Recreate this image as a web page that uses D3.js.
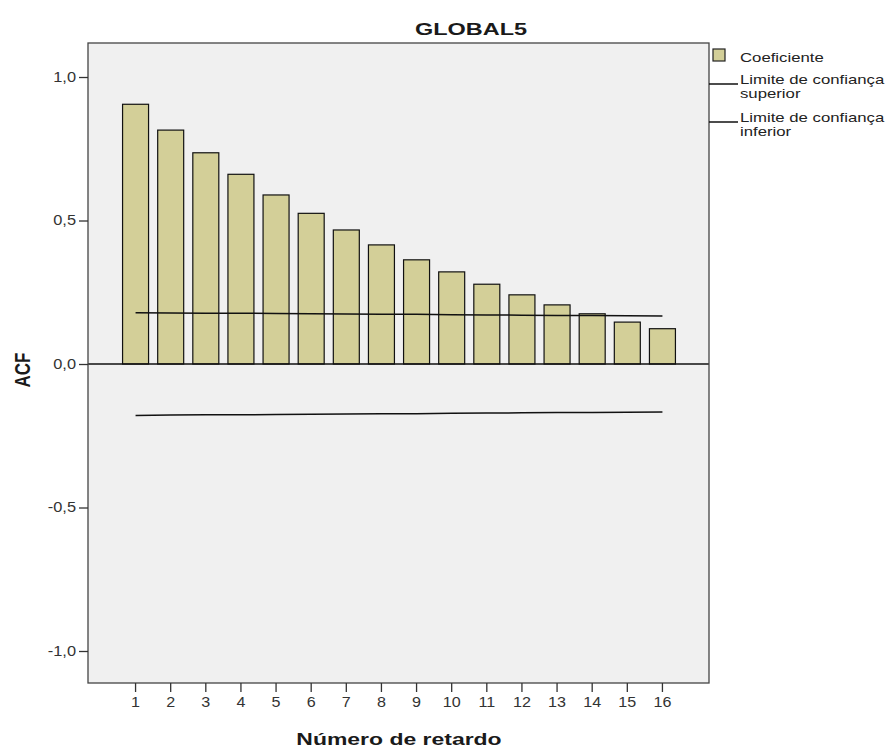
<!DOCTYPE html>
<html><head><meta charset="utf-8">
<script src="https://cdn.jsdelivr.net/npm/d3@7"></script>
<style>body{margin:0;background:#fff;} svg{display:block;font-family:"Liberation Sans",Arial,sans-serif;}</style>
</head><body>
<script>
const lags = [1,2,3,4,5,6,7,8,9,10,11,12,13,14,15,16];
const coef = [0.905,0.815,0.736,0.661,0.589,0.525,0.467,0.415,0.363,0.321,0.278,0.241,0.206,0.175,0.146,0.123];
const upper = [0.179,0.178,0.177,0.177,0.176,0.175,0.174,0.173,0.173,0.172,0.171,0.170,0.169,0.169,0.168,0.167];
const lower = upper.map(v => -v);
const yTicks = [-1.0,-0.5,0.0,0.5,1.0];
const title = "GLOBAL5";
const xTitle = "Número de retardo";
const yTitle = "ACF";
const legendLabels = [["Coeficiente"],["Limite de confiança","superior"],["Limite de confiança","inferior"]];

const W = 891, H = 753;
const L = 88, R = 709, T = 43, B = 683;
const svg = d3.select("body").append("svg").attr("width", W).attr("height", H);

// horizontal stretch helper (reference text is rendered wide)
function stretch(sel, f) {
  sel.each(function() {
    const len = this.getComputedTextLength();
    d3.select(this).attr("textLength", len * f).attr("lengthAdjust", "spacingAndGlyphs");
  });
}

const x = d3.scaleBand().domain(lags).range([118, 680]).paddingInner(0.26).paddingOuter(0.13);
const y = d3.scaleLinear().domain([-1.1115, 1.1185]).range([B, T]);
const fmt = d => d3.format(".1f")(d).replace(".", ",").replace("\u2212", "-");

svg.append("rect").attr("x", L).attr("y", T).attr("width", R - L).attr("height", B - T)
  .attr("fill", "#f0f0f0");

// bars
svg.append("g").selectAll("rect").data(coef).join("rect")
  .attr("x", (d,i) => x(lags[i]))
  .attr("width", x.bandwidth())
  .attr("y", d => y(Math.max(0,d)))
  .attr("height", d => Math.abs(y(d) - y(0)))
  .attr("fill", "#d3cf98").attr("stroke", "#111").attr("stroke-width", 1.2);

// zero line
svg.append("line").attr("x1", L).attr("x2", R).attr("y1", y(0)).attr("y2", y(0))
  .attr("stroke", "#111").attr("stroke-width", 1.5);

// confidence limits
const line = d3.line().x((d,i) => x(lags[i]) + x.bandwidth()/2).y(d => y(d));
[upper, lower].forEach(arr => {
  svg.append("path").attr("d", line(arr)).attr("fill", "none").attr("stroke", "#111").attr("stroke-width", 1.5);
});

// frame
svg.append("rect").attr("x", L).attr("y", T).attr("width", R - L).attr("height", B - T)
  .attr("fill", "none").attr("stroke", "#444").attr("stroke-width", 1.3);

// y axis
const yAxis = svg.append("g").attr("transform", `translate(${L},0)`)
  .call(d3.axisLeft(y).tickValues(yTicks).tickFormat(fmt).tickSize(9).tickPadding(3));
yAxis.select(".domain").remove();
yAxis.selectAll(".tick line").attr("stroke", "#333").attr("stroke-width", 1.3);
yAxis.selectAll(".tick text").attr("font-size", 14).attr("fill", "#333").attr("font-family", "Liberation Sans, Arial, sans-serif")
  .call(stretch, 1.17);

// x axis
const xAxis = svg.append("g").attr("transform", `translate(0,${B})`)
  .call(d3.axisBottom(x).tickSize(9).tickPadding(5));
xAxis.select(".domain").remove();
xAxis.selectAll(".tick line").attr("stroke", "#333").attr("stroke-width", 1.3);
xAxis.selectAll(".tick text").attr("font-size", 14).attr("fill", "#333").attr("font-family", "Liberation Sans, Arial, sans-serif")
  .call(stretch, 1.15);

// titles
svg.append("text").attr("x", 471).attr("y", 35).attr("text-anchor", "middle")
  .attr("font-size", 17).attr("font-weight", "bold").attr("fill", "#1a1a1a").text(title)
  .call(stretch, 1.38);
svg.append("text").attr("x", 399).attr("y", 745).attr("text-anchor", "middle")
  .attr("font-size", 17).attr("font-weight", "bold").attr("fill", "#1a1a1a").text(xTitle)
  .call(stretch, 1.35);
svg.append("text").attr("transform", "translate(30,370) scale(1.3,1) rotate(-90)").attr("text-anchor", "middle")
  .attr("font-size", 17).attr("font-weight", "bold").attr("fill", "#1a1a1a").text(yTitle);

// legend
const lg = svg.append("g");
lg.append("rect").attr("x", 713).attr("y", 49).attr("width", 12).attr("height", 12)
  .attr("fill", "#d3cf98").attr("stroke", "#222").attr("stroke-width", 1.2);
lg.append("text").attr("x", 740).attr("y", 62).attr("font-size", 13.5).attr("fill", "#222").text(legendLabels[0][0]);
[[84, 80], [122, 118]].forEach(([ly, ty], k) => {
  lg.append("line").attr("x1", R).attr("x2", 738).attr("y1", ly).attr("y2", ly)
    .attr("stroke", "#111").attr("stroke-width", 1.5);
  legendLabels[k+1].forEach((t, j) => {
    lg.append("text").attr("x", 740).attr("y", ty + 4 + j*14).attr("font-size", 13.5).attr("fill", "#222").text(t);
  });
});
lg.selectAll("text").call(stretch, 1.24);
</script>
</body></html>
